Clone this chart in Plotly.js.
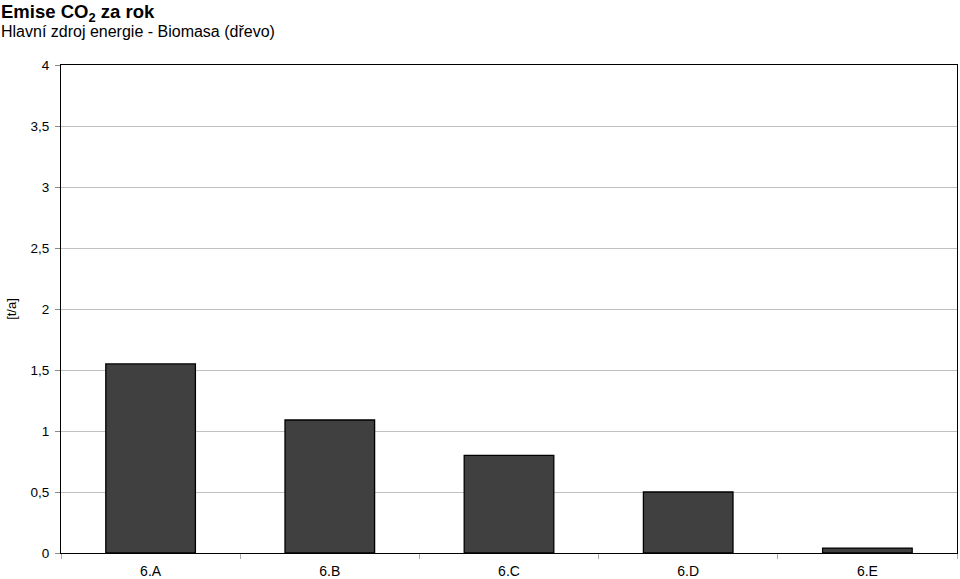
<!DOCTYPE html>
<html><head><meta charset="utf-8">
<script src="https://cdn.plot.ly/plotly-3.0.1.min.js"></script>
<style>html,body{margin:0;padding:0;background:#fff}</style>
</head><body>
<div id="chart" style="width:960px;height:579px"></div>
<script>
const categories = ["6.A", "6.B", "6.C", "6.D", "6.E"];
const emissions = [1.55, 1.09, 0.8, 0.5, 0.04];
const yTickVals = [0, 0.5, 1, 1.5, 2, 2.5, 3, 3.5, 4];

const font = "Liberation Sans, Arial, sans-serif";
Plotly.newPlot("chart", [{
  type: "bar", x: categories, y: emissions,
  marker: {color: "#404040", line: {color: "#000", width: 1.3}},
  hoverinfo: "skip"
}], {
  width: 960, height: 579,
  margin: {l: 61, r: 3, t: 65, b: 26},
  paper_bgcolor: "#fff", plot_bgcolor: "#fff",
  separators: ",.",
  bargap: 0.5,
  showlegend: false,
  font: {family: font, size: 13, color: "#000"},
  xaxis: {
    type: "category", tickson: "boundaries", ticks: "outside", ticklen: 5,
    tickcolor: "#aaa", showgrid: false, showline: true, linecolor: "#000",
    linewidth: 1, mirror: true, tickfont: {size: 14, family: font}, ticklabelstandoff: 5, fixedrange: true
  },
  yaxis: {
    range: [0, 4], tickvals: yTickVals, ticks: "outside", ticklen: 5, tickcolor: "#888",
    showgrid: true, gridcolor: "#c0c0c0", gridwidth: 1, zeroline: false,
    showline: true, linecolor: "#000", linewidth: 1, mirror: true,
    tickfont: {size: 13.5, family: font}, ticklabelstandoff: 3,
    title: {text: "[t/a]", font: {size: 13, family: font}, standoff: 10}, fixedrange: true
  },
  annotations: [
    {text: "<b>Emise CO<sub>2</sub> za rok</b>", xref: "paper", yref: "paper", x: -0.068, y: 1.136, xanchor: "left", yanchor: "top", xshift: -1, showarrow: false, font: {size: 18.5, family: font}},
    {text: "Hlavní zdroj energie - Biomasa (dřevo)", xref: "paper", yref: "paper", x: -0.068, y: 1.047, xanchor: "left", yanchor: "bottom", xshift: -1, showarrow: false, font: {size: 16, family: font}}
  ]
}, {displayModeBar: false, staticPlot: true});
</script>
</body></html>
